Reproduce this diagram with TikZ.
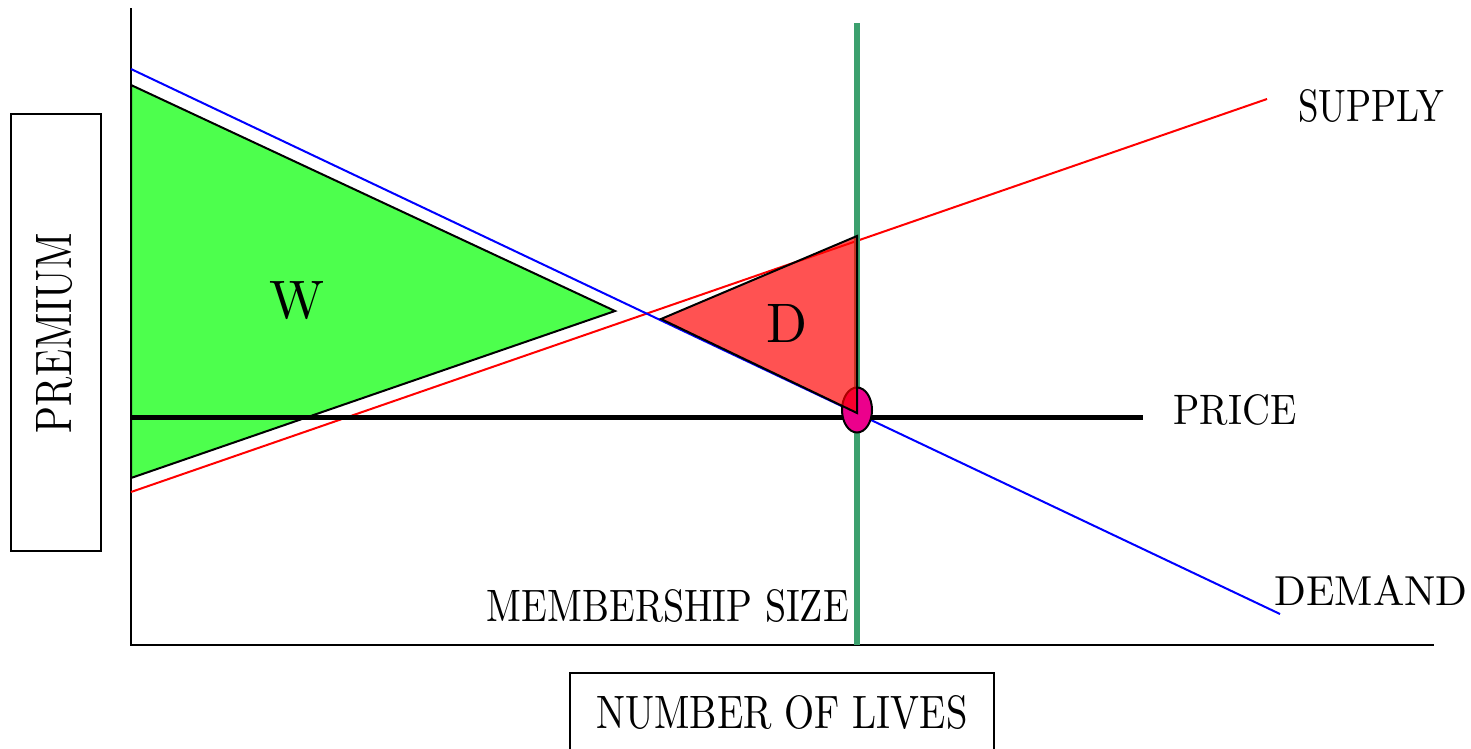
\documentclass[tikz,border=0pt]{standalone}
\usepackage{graphicx}
\usetikzlibrary{shapes.geometric}
\definecolor{wgreen}{RGB}{77,255,77}
\definecolor{dred}{RGB}{255,0,0}
\definecolor{msgreen}{RGB}{60,160,110}
\newcommand{\lbl}[3]{\resizebox{#1pt}{#2pt}{#3}}
\tikzset{
  axis/.style={line width=2pt, black},
  curve/.style={line width=2pt},
  tri/.style={draw=black, line width=2pt, line join=miter},
  lab/.style={inner sep=0pt, anchor=center},
  boxlab/.style={draw=black, line width=1.5pt, inner sep=0pt}
}
\begin{document}
\begin{tikzpicture}[x=1pt,y=-1pt]
\useasboundingbox (0,0) rectangle (1471,748);
% coordinates
\coordinate (o) at (131,645);
\coordinate (ytop) at (131,8);
\coordinate (xend) at (1434,645);
\coordinate (d1) at (131,69);
\coordinate (d2) at (1280,614);
\coordinate (s1) at (131,492);
\coordinate (s2) at (1267,99);
\coordinate (p1) at (131,417);
\coordinate (p2) at (1143,417);
\coordinate (m1) at (857,23);
\coordinate (m2) at (857,645);
\coordinate (w1) at (131,85);
\coordinate (w2) at (615,311);
\coordinate (w3) at (131,478);
\coordinate (r1) at (661,319);
\coordinate (r2) at (857,236);
\coordinate (r3) at (857,413);
% W triangle
\filldraw[tri, fill=wgreen] (w1) -- (w2) -- (w3) -- cycle;
% axes
\draw[axis] (ytop) -- (o) -- (xend);
% supply and demand
\draw[curve, dred] (s1) -- (s2);
\draw[curve, blue] (d1) -- (d2);
% membership size line
\draw[line width=6pt, msgreen] (m1) -- (m2);
% price line
\draw[line width=5pt, black] (p1) -- (p2);
% equilibrium ellipse
\node[draw=black, line width=2pt, fill=magenta, ellipse, minimum width=30pt, minimum height=45pt, inner sep=0pt] (eq) at (857,410) {};
% D triangle
\filldraw[tri, fill=red, fill opacity=0.68] (r1) -- (r2) -- (r3) -- cycle;
% labels
\node[lab] (W) at (297,301) {\lbl{55}{37}{W}};
\node[lab] (D) at (787,323) {\lbl{41}{38}{D}};
\node[lab] (supply) at (1371,106) {\lbl{146}{32}{SUPPLY}};
\node[lab] (price) at (1235,410) {\lbl{123}{30}{PRICE}};
\node[lab] (demand) at (1371,590) {\lbl{193}{30}{DEMAND}};
\node[lab] (member) at (668,606) {\lbl{362}{32}{MEMBERSHIP SIZE}};
% axis title boxes
\draw[line width=1.5pt] (11,114) rectangle (101,551);
\node[lab] (premium) at (55,333) {\rotatebox{90}{\lbl{200}{35}{PREMIUM}}};
\draw[line width=1.5pt] (570,673) rectangle (994,760);
\node[lab] (lives) at (782,712) {\lbl{371}{33}{NUMBER OF LIVES}};
\end{tikzpicture}
\end{document}
